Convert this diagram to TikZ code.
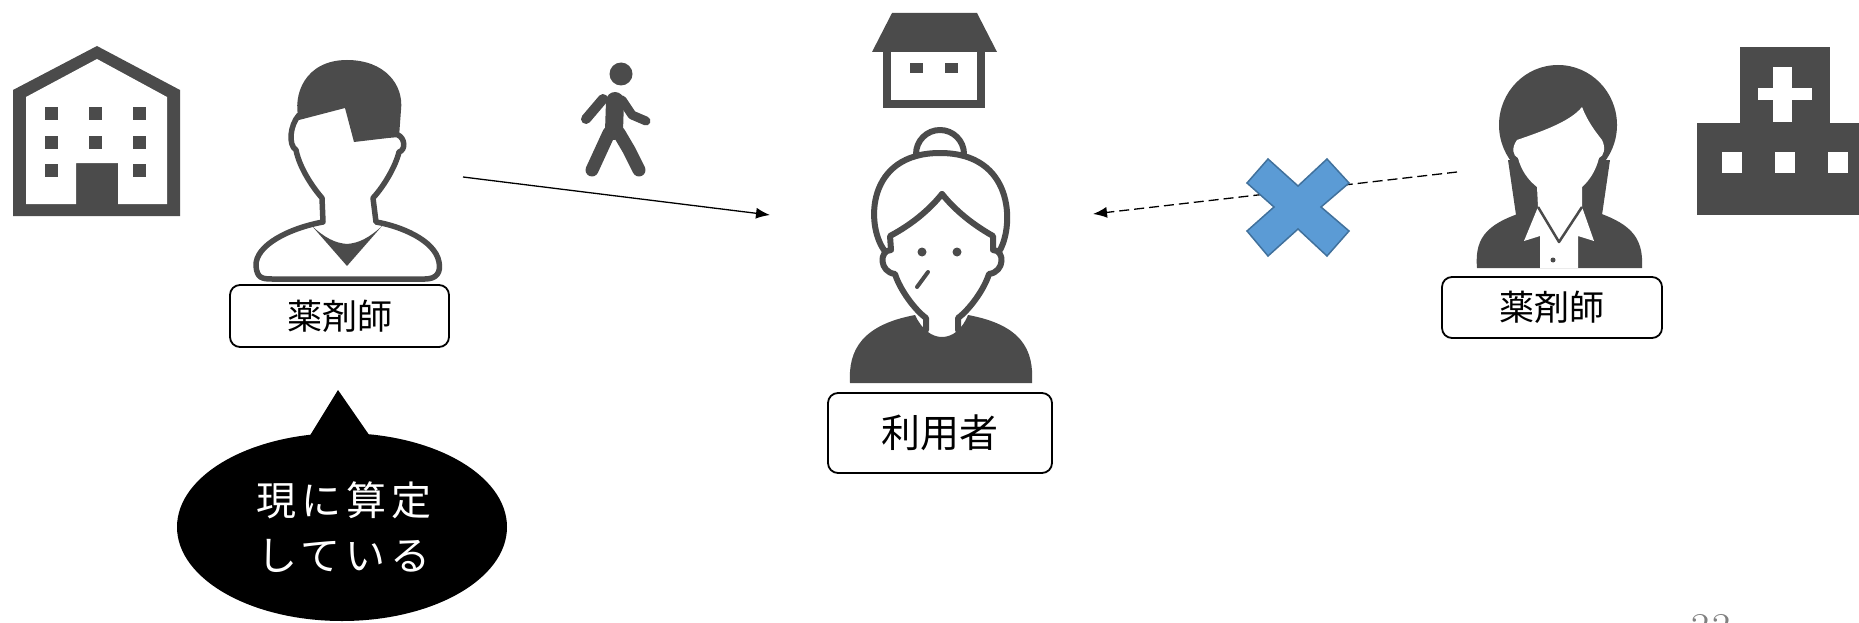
\documentclass[tikz,border=0pt]{standalone}
\usepackage{fontspec}
\usetikzlibrary{arrows.meta}
\newfontfamily\jp{Noto Sans CJK JP}
\newfontfamily\jpsp[LetterSpace=12]{Noto Sans CJK JP}
\definecolor{icon}{RGB}{75,75,75}
\definecolor{xfill}{RGB}{91,155,213}
\definecolor{xline}{RGB}{65,113,156}
\definecolor{pgnum}{RGB}{128,128,128}
\tikzset{
  iconline/.style={draw=icon, line width=5.5pt, line join=round, line cap=round},
  labelbox/.style={draw=black, line width=1.8pt, rounded corners=10pt, fill=white, inner sep=0pt},
  conn/.style={draw=black, line width=1.3pt, -{Latex[length=14pt,width=11pt]}},
  dashconn/.style={draw=black, line width=1.3pt, dash pattern=on 10pt off 5pt, -{Latex[length=14pt,width=11pt]}}
}
\begin{document}
\begin{tikzpicture}[x=1pt,y=-1pt]
\useasboundingbox (0,0) rectangle (1859,623);

% ---------- left building (pharmacy) ----------
\fill[icon] (13,90) -- (97,46) -- (180,90) -- (180,216) -- (13,216) -- cycle;
\fill[white] (26,97) -- (97,59) -- (167,97) -- (167,204) -- (118,204) -- (118,163) -- (76,163) -- (76,204) -- (26,204) -- cycle;
\foreach \x in {45,89,133}{
  \fill[icon] (\x,107) rectangle ++(13,13);
  \fill[icon] (\x,136) rectangle ++(13,13);
}
\fill[icon] (45,164) rectangle ++(13,13);
\fill[icon] (133,164) rectangle ++(13,13);

% ---------- left pharmacist (man) ----------
\coordinate (ph1) at (347,170);
\draw[iconline] (299,115) .. controls (290,125) and (288,145) .. (296,150)
  .. controls (300,170) and (315,190) .. (322,198) -- (323,222)
  .. controls (290,228) and (255,245) .. (256,266)
  .. controls (257,278) and (262,279) .. (272,279) -- (425,279)
  .. controls (437,279) and (441,272) .. (439,262)
  .. controls (435,240) and (400,226) .. (376,222) -- (373,198)
  .. controls (385,185) and (396,165) .. (399,152)
  .. controls (406,150) and (405,138) .. (398,135);
\fill[icon] (299,120) .. controls (292,95) and (305,60) .. (347,60)
  .. controls (385,60) and (404,85) .. (401,110) -- (399,137) -- (388,138)
  -- (354,142) -- (345,108) -- cycle;
\fill[icon] (312,226) .. controls (325,238) and (335,243) .. (347,244)
  .. controls (359,243) and (369,238) .. (382,226) -- (347,266) -- cycle;

\node[labelbox, minimum width=219pt, minimum height=62pt] (lab1) at (339.5,316) {};
\node[font=\jp\fontsize{35}{40}\selectfont] (lab1t) at (lab1.center) {薬剤師};

% ---------- speech bubble ----------
\fill[black] (342,527) ellipse [x radius=165pt, y radius=94pt];
\fill[black] (306,442) -- (338,390) -- (374,442) -- cycle;
\node[text=white, align=center, font=\jpsp\fontsize{40}{55}\selectfont] (bubble) at (344,527) {現に算定\\している};

% ---------- walking person ----------
\fill[icon] (621,74) circle (11.5pt);
\draw[icon, line width=18pt, line cap=round] (615,101) -- (614,131);
\draw[icon, line width=13pt, line cap=round] (609,133) -- (592,170);
\draw[icon, line width=13pt, line cap=round, line join=round] (619,133) -- (629,150) -- (639,170);
\draw[icon, line width=10pt, line cap=round, line join=round] (603,99) -- (586,119);
\draw[icon, line width=9pt, line cap=round, line join=round] (622,100) -- (632,115) -- (646,121);

% ---------- center house ----------
\fill[icon] (892,13) -- (977,13) -- (997,52) -- (872,52) -- cycle;
\fill[icon] (883,52) rectangle (985,108);
\fill[white] (891,52) rectangle (977,100);
\fill[icon] (910,63) rectangle (923,73);
\fill[icon] (945,63) rectangle (958,73);

% ---------- user (woman) ----------
\coordinate (user) at (942,260);
\fill[icon] (850,383) .. controls (848,350) and (862,325) .. (915,315)
  .. controls (922,330) and (932,337) .. (942,337)
  .. controls (952,337) and (962,330) .. (968,315)
  .. controls (1022,325) and (1034,350) .. (1032,383) -- cycle;
\begin{scope}[draw=icon, line width=6pt, line join=round, line cap=round]
\draw (916,154) arc[start angle=180, end angle=0, radius=24pt];
\draw (884,250) .. controls (866,225) and (866,153) .. (940,153)
  .. controls (1014,153) and (1014,225) .. (1000,250);
\draw (942,194) .. controls (925,215) and (905,228) .. (890,236) -- (891,250)
  .. controls (879,250) and (879,272) .. (895,274)
  .. controls (900,290) and (915,310) .. (926,318) -- (926,330);
\draw (942,194) .. controls (959,215) and (979,228) .. (993,236) -- (993,250)
  .. controls (1005,250) and (1005,272) .. (989,274)
  .. controls (984,290) and (969,310) .. (958,318) -- (958,330);
\draw[line width=4pt] (928,272) -- (917,287);
\end{scope}
\fill[icon] (922,252) circle (4.5pt);
\fill[icon] (957,252) circle (4.5pt);

\node[labelbox, minimum width=224pt, minimum height=80pt] (lab2) at (940,433) {};
\node[font=\jp\fontsize{39}{44}\selectfont] (lab2t) at (lab2.center) {利用者};

% ---------- right pharmacist (woman) ----------
\coordinate (ph2) at (1558,170);
\fill[icon] (1558,125) ellipse [x radius=59pt, y radius=60pt];
\fill[icon] (1508,160) -- (1610,160) -- (1602,215) -- (1516,215) -- cycle;
\fill[icon] (1477,268) .. controls (1474,235) and (1490,222) .. (1530,210) -- (1590,210)
  .. controls (1628,222) and (1644,235) .. (1642,268) -- cycle;
\fill[white] (1517,140) .. controls (1540,132) and (1570,122) .. (1582,107)
  .. controls (1587,120) and (1594,130) .. (1602,140)
  .. controls (1606,148) and (1604,156) .. (1599,158)
  .. controls (1596,170) and (1590,180) .. (1582,187) -- (1582,207)
  -- (1594,241) -- (1578,236) -- (1578,268) -- (1540,268) -- (1540,236) -- (1524,241)
  -- (1538,207) -- (1537,187)
  .. controls (1528,180) and (1521,170) .. (1518,158)
  .. controls (1513,156) and (1511,148) .. (1517,140) -- cycle;
\draw[icon, line width=2.5pt, line join=round] (1538,207) -- (1559,242) -- (1582,207);
\fill[icon] (1553,260) circle (2.5pt);

\node[labelbox, minimum width=220pt, minimum height=61pt] (lab3) at (1552,307.5) {};
\node[font=\jp\fontsize{35}{40}\selectfont] (lab3t) at (lab3.center) {薬剤師};

% ---------- hospital ----------
\fill[icon] (1740,47) rectangle (1830,124);
\fill[icon] (1697,123) rectangle (1870,215);
\fill[white] (1773,67) rectangle (1792,122);
\fill[white] (1758,88) rectangle (1812,100);
\foreach \x in {1722,1775,1828}{
  \fill[white] (\x,152) rectangle ++(20,21);
}

% ---------- connectors ----------
\coordinate (a1s) at (463,177);
\coordinate (a1e) at (770,215);
\draw[conn] (a1s) -- (a1e);
\coordinate (a2s) at (1457,172);
\coordinate (a2e) at (1093,214);
\draw[dashconn] (a2s) -- (a2e);

% ---------- blue cross ----------
\node[inner sep=0pt] (xmark) at (1298,207) {};
\filldraw[fill=xfill, draw=xline, line width=1.5pt, line join=miter]
  (1268,159) -- (1298,186) -- (1327,159) -- (1349,183) -- (1321,207)
  -- (1349,231) -- (1327,256) -- (1298,229) -- (1268,256) -- (1247,231)
  -- (1274,207) -- (1247,183) -- cycle;

% ---------- page number ----------
\node[text=pgnum, anchor=base, inner sep=0pt, font=\fontsize{44}{50}\selectfont] (pg) at (1711,643) {33};
\end{tikzpicture}
\end{document}
